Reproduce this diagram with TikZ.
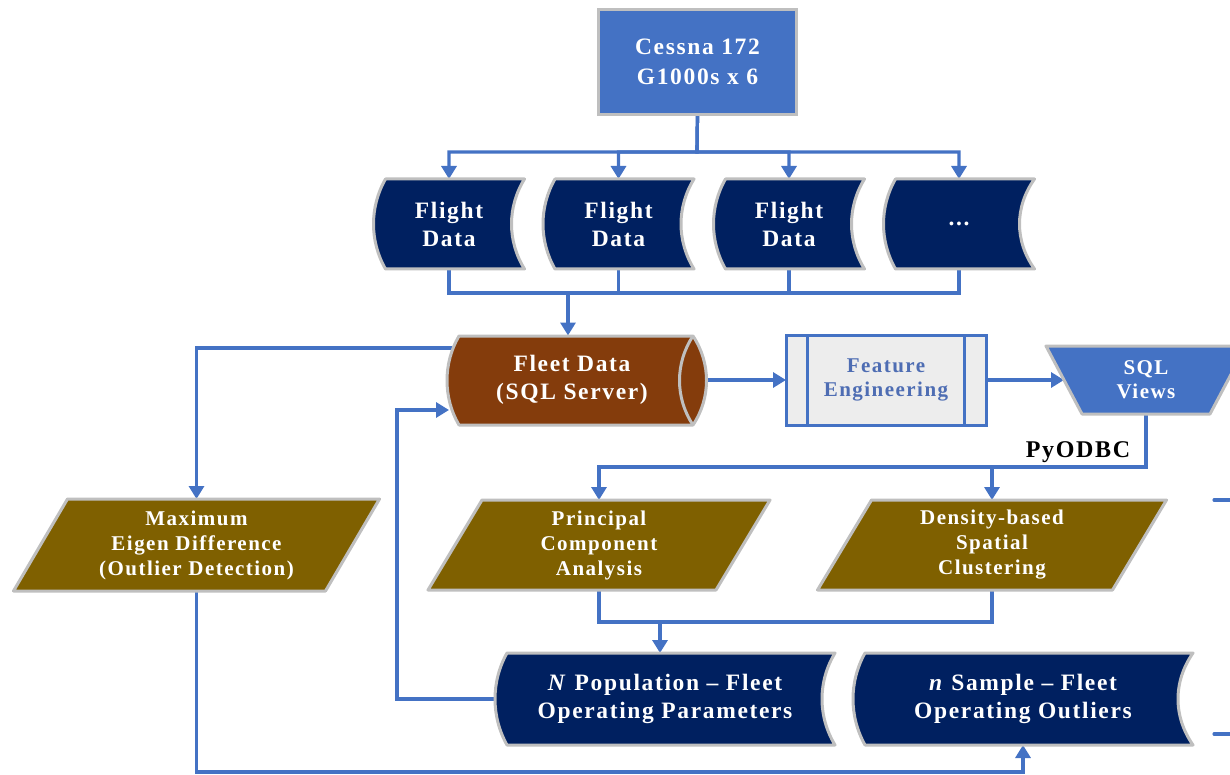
\documentclass[tikz,border=0pt]{standalone}
\usepackage{fontspec}
\setmainfont{Liberation Serif}[LetterSpace=7]
\usetikzlibrary{arrows.meta,calc}
\definecolor{cblue}{HTML}{4472C4}
\definecolor{navy}{HTML}{002060}
\definecolor{brownfd}{HTML}{843C0C}
\definecolor{olive}{HTML}{7F6000}
\definecolor{gborder}{HTML}{BFBFBF}
\definecolor{fegray}{HTML}{EDEDED}
\definecolor{fetext}{HTML}{4E6DB3}
\pgfdeclarelayer{bg}
\pgfsetlayers{bg,main}
\tikzset{
  line/.style={draw=cblue, line width=3.2pt},
  arrowline/.style={line, -{Triangle[width=15pt,length=13pt]}},
  txt/.style={text=white, align=center, inner sep=0pt, outer sep=0pt},
  big/.style={font=\bfseries\fontsize{23.5}{28}\selectfont},
  mid/.style={font=\bfseries\fontsize{21}{25}\selectfont},
  small/.style={font=\bfseries\fontsize{21}{24}\selectfont},
  outline/.style={draw=gborder, line width=3pt, line join=round},
}
% stored data shape: name, cx, cy, w, h, right depth, text
\newcommand{\sdshape}[7]{%
  \path[outline, fill=navy] ({#2-#4/2+12},{#3-#5/2}) -- ({#2+#4/2},{#3-#5/2})
    .. controls ({#2+#4/2-4*#6/3},{#3-0.19*#5}) and ({#2+#4/2-4*#6/3},{#3+0.19*#5}) .. ({#2+#4/2},{#3+#5/2})
    -- ({#2-#4/2+12},{#3+#5/2})
    .. controls ({#2-#4/2-4},{#3+0.19*#5}) and ({#2-#4/2-4},{#3-0.19*#5}) .. cycle;
  \node[txt, big, minimum width=#4pt, minimum height=#5pt] (#1) at (#2,#3) {#7};}
% parallelogram: name, cx, cy, w, h, text
\newcommand{\paraShape}[6]{%
  \path[outline, fill=olive] ({#2-#4/2+27},{#3-#5/2}) -- ({#2+#4/2+27},{#3-#5/2})
    -- ({#2+#4/2-27},{#3+#5/2}) -- ({#2-#4/2-27},{#3+#5/2}) -- cycle;
  \node[txt, mid, minimum width=#4pt, minimum height=#5pt] (#1) at (#2,#3) {#6};}

\begin{document}
\begin{tikzpicture}[x=1pt,y=-1pt]
\useasboundingbox (0,0) rectangle (1230,775);
\clip (0,0) rectangle (1230,775);

% Cessna
\node[txt, font=\bfseries\fontsize{23.5}{30}\selectfont, fill=cblue, draw=gborder, line width=3pt,
  minimum width=198pt, minimum height=105pt] (cessna) at (697.5,62) {Cessna 172\\G1000s x 6};

% Flight data
\sdshape{fd1}{449}{224}{151}{90}{13}{Flight\\Data}
\sdshape{fd2}{618.5}{224}{151}{90}{13}{Flight\\Data}
\sdshape{fd3}{789}{224}{151}{90}{13}{Flight\\Data}
\sdshape{fd4}{959}{224}{151}{90}{15}{...}

% Fleet data cylinder
\path[outline, fill=brownfd] (459,336) -- (693,336)
  .. controls (711,363) and (711,398) .. (693,425) -- (459,425)
  .. controls (443,398) and (443,363) .. cycle;
\draw[outline] (693,336) .. controls (675,363) and (675,398) .. (693,425);
\node[txt, big, minimum width=270pt, minimum height=89pt] (fleet) at (572,380) {Fleet Data\\(SQL Server)};

% Feature engineering
\node[txt, small, text=fetext, fill=fegray, draw=cblue, line width=3pt,
  minimum width=200pt, minimum height=90pt] (fe) at (886,380) {Feature\\Engineering};
\draw[cblue, line width=3pt] ([xshift=21.5pt]fe.north west) -- ([xshift=21.5pt]fe.south west);
\draw[cblue, line width=3pt] ([xshift=-21.5pt]fe.north east) -- ([xshift=-21.5pt]fe.south east);

% SQL views
\path[outline, fill=cblue] (1046,346) -- (1246,346) -- (1210,414) -- (1082,414) -- cycle;
\node[txt, small, minimum width=166pt, minimum height=68pt] (sql) at (1146,380) {SQL\\Views};

% Parallelograms
\paraShape{maxe}{196.5}{545}{312}{92}{Maximum\\Eigen Difference\\(Outlier Detection)}
\paraShape{pca}{599}{545}{288}{90}{Principal\\Component\\Analysis}
\paraShape{dbscan}{992}{545}{295}{90}{Density-based\\Spatial\\Clustering}

% Population / sample
\sdshape{npop}{665}{699}{340}{92}{13}{\textit{N} Population -- Fleet\\Operating Parameters}
\sdshape{nsamp}{1023}{699}{340}{92}{15}{\textit{n} Sample -- Fleet\\Operating Outliers}

% PyODBC label
\node[inner sep=0pt, font=\bfseries\fontsize{24}{26}\selectfont] (pyodbc) at (1078,452) {PyODBC};

% right-edge stubs
\coordinate (s1) at (1214,500);
\coordinate (s2) at (1214,734);
\draw[line, line cap=round] (s1) -- ++(16,0);
\draw[line, line cap=round] (s2) -- ++(16,0);

\begin{pgfonlayer}{bg}
\coordinate (busA) at (697,152);
\foreach \i in {1,...,4} \draw[arrowline] (cessna.south) -- (busA) -| (fd\i.north);
\coordinate (busB) at (568,293);
\foreach \i in {1,...,4} \draw[line] (fd\i.south) |- (busB);
\draw[arrowline] (busB) -- (busB |- fleet.north);
\draw[arrowline] (fleet.east) -- (fe.west);
\draw[arrowline] (fe.east) -- ([xshift=1pt]sql.west);
\coordinate (busC) at (1146,467);
\draw[arrowline] (sql.south) -- (busC) -| (pca.north);
\draw[arrowline] (sql.south) -- (busC) -| (dbscan.north);
\draw[arrowline] ([yshift=32pt,xshift=18pt]fleet.west) -| (maxe.north);
\coordinate (busD) at (660,622);
\draw[line] (pca.south) |- (busD);
\draw[line] (dbscan.south) |- (busD);
\draw[arrowline] (busD) -- (busD |- npop.north);
\coordinate (loopc) at (397,410);
\draw[arrowline] (npop.west) -| (loopc) -- ([xshift=12pt]fleet.west |- loopc);
\coordinate (busE) at (197,772);
\draw[arrowline] (maxe.south) -- (maxe.south |- busE) -| (nsamp.south);
\end{pgfonlayer}
\end{tikzpicture}
\end{document}
